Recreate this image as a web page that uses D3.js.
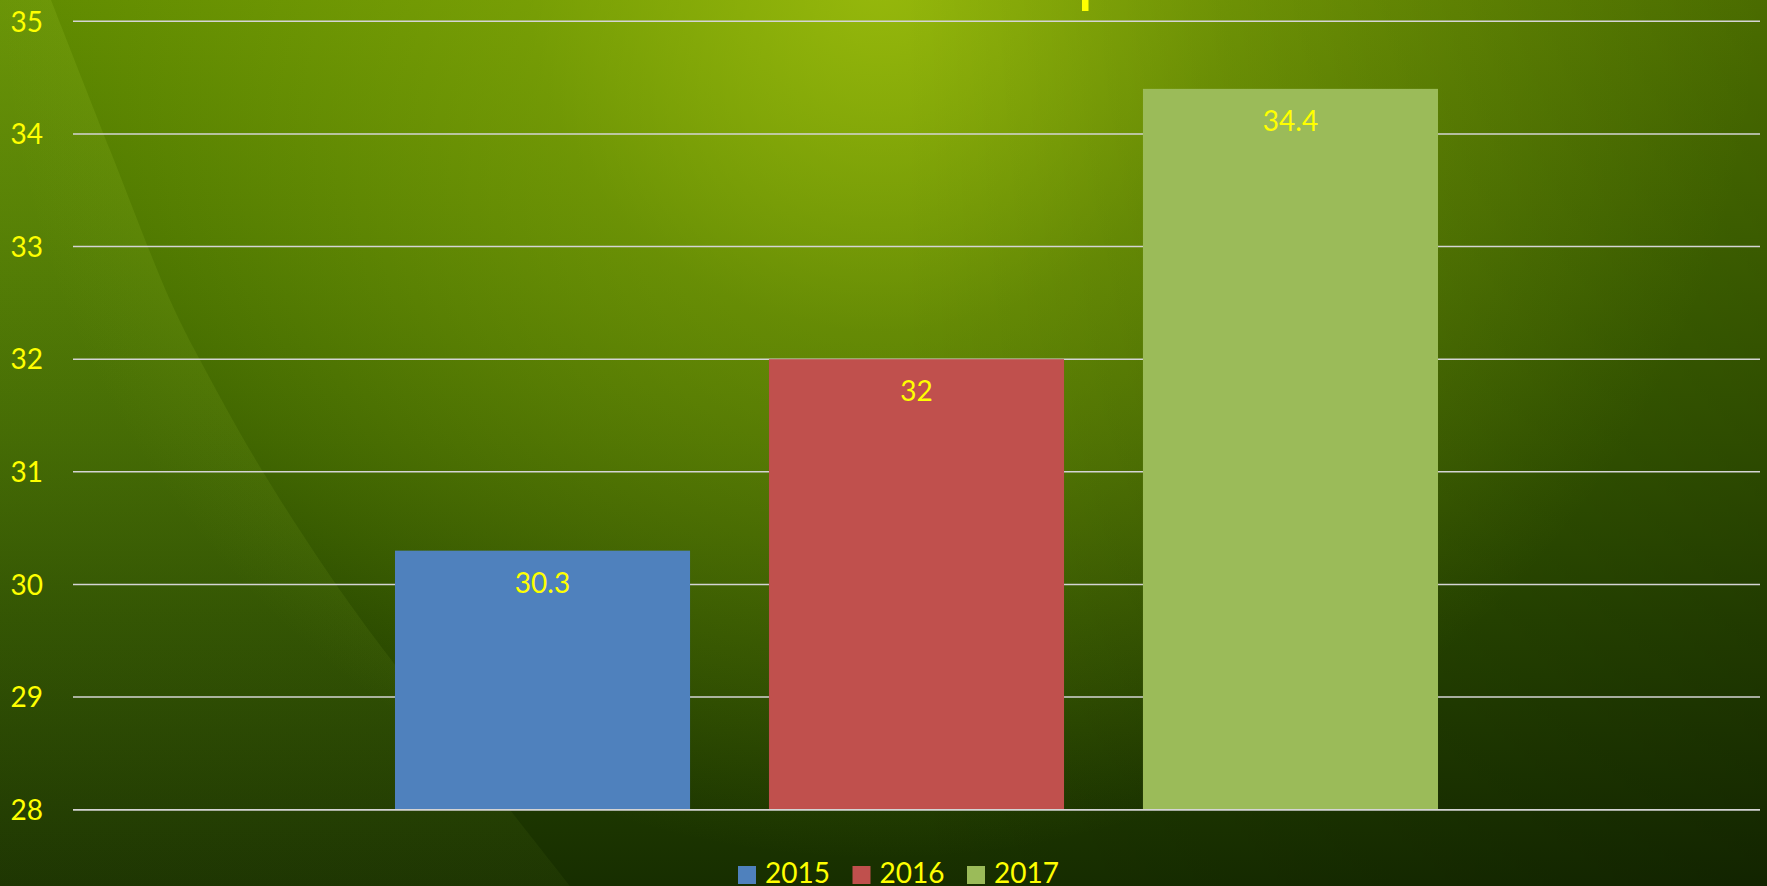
<!DOCTYPE html>
<html>
<head>
<meta charset="utf-8">
<script src="https://cdn.jsdelivr.net/npm/d3@7"></script>
<style>
  html, body { margin: 0; padding: 0; background: #1a3300; overflow: hidden; }
  svg { display: block; }
</style>
</head>
<body>
<div id="chart"></div>
<script>
// chart values
var categories = ['']
var series = ['2015', '2016', '2017']
var values = [30.3, 32, 34.4]
var seriesColors = ['#4f81bd', '#c0504d', '#9bbb59']
var yTicks = [28, 29, 30, 31, 32, 33, 34, 35]

// lighter band curve on the background
var bandCurve = [[51, 0], [110, 150], [170, 300], [200, 360], [263, 472], [347, 600], [430, 710], [510, 810], [570, 886]]

var width = 1767,
  height = 886,
  margin = { left: 73, right: 7, top: 21.3, bottom: 76.3 }

var svg = d3
  .select('#chart')
  .append('svg')
  .attr('width', width)
  .attr('height', height)

var defs = svg.append('defs')

function addStops(grad, stops) {
  grad.selectAll('stop')
    .data(stops)
    .enter()
    .append('stop')
    .attr('offset', function(d) { return d[0] })
    .attr('stop-color', function(d) { return d[1] })
    .attr('stop-opacity', function(d) { return d[2] == null ? 1 : d[2] })
}

// base: top to bottom
addStops(
  defs.append('linearGradient')
    .attr('id', 'base')
    .attr('x1', 0).attr('y1', 0)
    .attr('x2', 0).attr('y2', 1),
  [
    [0, '#5f8a00'],
    [0.28, '#4a7400'],
    [0.5, '#3a6000'],
    [0.7, '#2a4b00'],
    [1, '#172e00'],
  ]
)

// highlight at the top middle
addStops(
  defs.append('radialGradient')
    .attr('id', 'glow')
    .attr('gradientUnits', 'userSpaceOnUse')
    .attr('cx', 880)
    .attr('cy', -20)
    .attr('r', 880),
  [
    [0, '#a2c20e', 0.82],
    [0.4, '#a2c20e', 0.36],
    [1, '#a2c20e', 0],
  ]
)

// darker towards the right edge
addStops(
  defs.append('linearGradient')
    .attr('id', 'shade')
    .attr('gradientUnits', 'userSpaceOnUse')
    .attr('x1', 900).attr('y1', 0)
    .attr('x2', 1767).attr('y2', 0),
  [
    [0, '#000000', 0],
    [1, '#000000', 0.22],
  ]
)

addStops(
  defs.append('linearGradient')
    .attr('id', 'band')
    .attr('x1', 0).attr('y1', 0)
    .attr('x2', 0).attr('y2', 1),
  [
    [0, '#a8d030', 0.16],
    [0.5, '#a8d030', 0.1],
    [1, '#a8d030', 0.05],
  ]
)

svg.append('rect').attr('width', width).attr('height', height).attr('fill', 'url(#base)')
svg.append('rect').attr('width', width).attr('height', height).attr('fill', 'url(#glow)')
svg.append('rect').attr('width', width).attr('height', height).attr('fill', 'url(#shade)')

svg.append('path')
  .attr('d', d3.line().curve(d3.curveCatmullRom)(bandCurve) + 'L0,886L0,0Z')
  .attr('fill', 'url(#band)')

// fragment of the title cut off at the top edge
svg.append('rect')
  .attr('x', 1082)
  .attr('y', 0)
  .attr('width', 6.5)
  .attr('height', 11)
  .attr('fill', '#ffff00')

// scales
var y = d3
  .scaleLinear()
  .domain([28, 35])
  .range([height - margin.bottom, margin.top])

var x0 = d3
  .scaleBand()
  .domain(categories)
  .range([margin.left, width - margin.right])
  .paddingInner(0)
  .paddingOuter(0.3087)

var x1 = d3
  .scaleBand()
  .domain(series)
  .range([0, x0.bandwidth()])
  .paddingInner(0.211)
  .paddingOuter(0)

// gridlines
svg.append('g')
  .selectAll('line')
  .data(yTicks)
  .enter()
  .append('line')
  .attr('x1', margin.left)
  .attr('x2', width - margin.right)
  .attr('y1', function(d) { return y(d) })
  .attr('y2', function(d) { return y(d) })
  .attr('stroke', '#d4d4d4')
  .attr('stroke-width', 1.6)

// y axis labels
var yAxis = d3.axisLeft(y).tickValues(yTicks).tickFormat(d3.format('d')).tickSize(0).tickPadding(0)
var yAxisG = svg.append('g')
  .attr('transform', 'translate(43,0)')
  .call(yAxis)
yAxisG.select('.domain').remove()
yAxisG.selectAll('text')
  .attr('fill', '#ffff00')
  .attr('font-family', 'Lato, "Open Sans", sans-serif')
  .attr('font-size', 28)
  .attr('dy', '0.35em')

// bars
var group = svg.append('g')
  .attr('transform', 'translate(' + x0(categories[0]) + ',0)')

group.selectAll('rect')
  .data(series)
  .enter()
  .append('rect')
  .attr('x', function(d) { return x1(d) })
  .attr('y', function(d, i) { return y(values[i]) })
  .attr('width', x1.bandwidth())
  .attr('height', function(d, i) { return y(28) - y(values[i]) })
  .attr('fill', function(d, i) { return seriesColors[i] })

// baseline gridline over the bars
svg.append('line')
  .attr('x1', margin.left)
  .attr('x2', width - margin.right)
  .attr('y1', y(28))
  .attr('y2', y(28))
  .attr('stroke', '#d4d4d4')
  .attr('stroke-width', 1.6)

group.selectAll('text')
  .data(series)
  .enter()
  .append('text')
  .attr('x', function(d) { return x1(d) + x1.bandwidth() / 2 })
  .attr('y', function(d, i) { return y(values[i]) + 42 })
  .attr('text-anchor', 'middle')
  .attr('fill', '#ffff00')
  .attr('font-family', 'Lato, "Open Sans", sans-serif')
  .attr('font-size', 28)
  .text(function(d, i) { return values[i] })

// legend
var legend = svg.append('g')
  .attr('transform', 'translate(738,0)')

var item = legend.selectAll('g')
  .data(series)
  .enter()
  .append('g')
  .attr('transform', function(d, i) { return 'translate(' + i * 114.5 + ',0)' })

item.append('rect')
  .attr('x', 0)
  .attr('y', 866)
  .attr('width', 18)
  .attr('height', 18)
  .attr('fill', function(d, i) { return seriesColors[i] })

item.append('text')
  .attr('x', 27)
  .attr('y', 883)
  .attr('fill', '#ffff00')
  .attr('font-family', 'Lato, "Open Sans", sans-serif')
  .attr('font-size', 28)
  .text(function(d) { return d })
</script>
</body>
</html>
